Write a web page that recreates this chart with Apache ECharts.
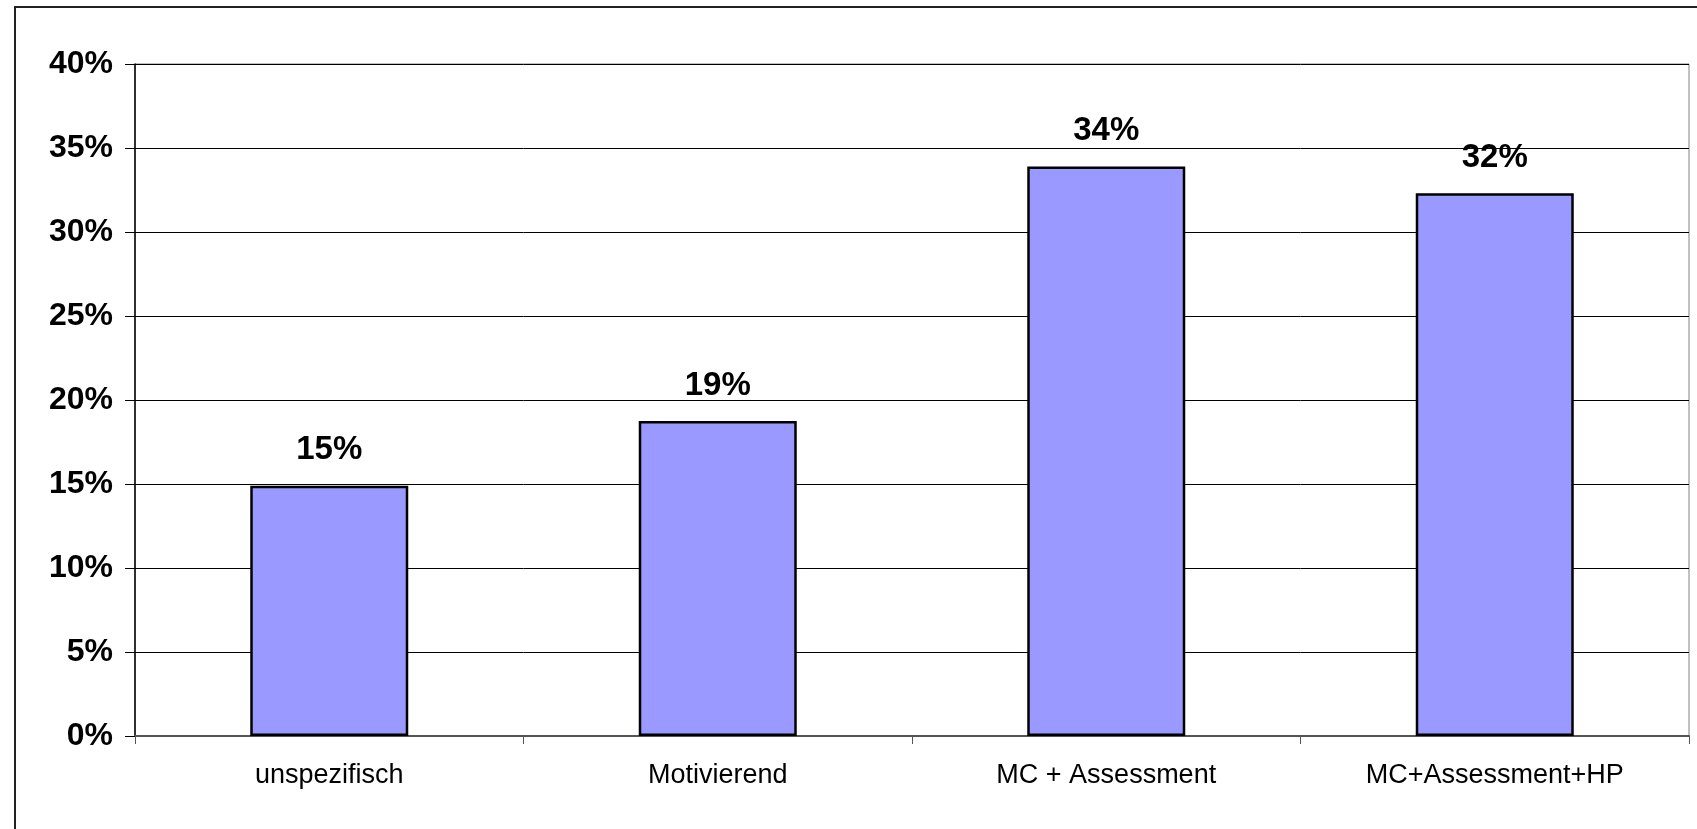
<!DOCTYPE html>
<html>
<head>
<meta charset="utf-8">
<script src="https://cdn.jsdelivr.net/npm/echarts@6/dist/echarts.min.js"></script>
<style>
  * { margin: 0; padding: 0; }
  body { background: #fff; }
</style>
</head>
<body>
<div id="main" style="width: 1697px; height: 829px;"></div>
<script>
// categories and values (share in percent)
var categories = ['unspezifisch', 'Motivierend', 'MC + Assessment', 'MC+Assessment+HP'];
var shares = [14.9, 18.75, 33.9, 32.3];
var yTicks = [0, 5, 10, 15, 20, 25, 30, 35, 40];

var chart = echarts.init(document.getElementById('main'));
chart.setOption({
  animation: false,
  backgroundColor: '#fff',
  // outer frame of the chart area
  graphic: [{
    type: 'rect',
    shape: { x: 15, y: 7, width: 1800, height: 900 },
    style: { fill: 'none', stroke: '#222', lineWidth: 2 },
    silent: true
  }],
  grid: {
    left: 135, right: 8, top: 64, bottom: 93,
    show: true, borderColor: '#808080', borderWidth: 1
  },
  xAxis: {
    type: 'category',
    data: categories,
    axisLine: { lineStyle: { color: '#555', width: 2 } },
    axisTick: { show: true, length: 8, lineStyle: { color: '#555' } },
    axisLabel: {
      margin: 26,
      fontFamily: 'Liberation Sans, Arial, sans-serif',
      fontSize: 27,
      color: '#000'
    }
  },
  yAxis: {
    type: 'value',
    min: yTicks[0],
    max: yTicks[yTicks.length - 1],
    interval: 5,
    axisLine: { show: true, lineStyle: { color: '#000', width: 1.5 } },
    axisTick: { show: true, length: 10, lineStyle: { color: '#000' } },
    splitLine: { lineStyle: { color: '#000', width: 1 } },
    axisLabel: {
      margin: 22,
      fontFamily: 'Liberation Sans, Arial, sans-serif',
      fontWeight: 'bold',
      fontSize: 32,
      color: '#000',
      formatter: '{value}%'
    }
  },
  series: [{
    type: 'bar',
    data: shares,
    barWidth: 158,
    itemStyle: { color: '#9999FF', borderColor: '#000', borderWidth: 2.5 },
    label: {
      show: true,
      position: 'top',
      distance: 19,
      fontFamily: 'Liberation Sans, Arial, sans-serif',
      fontWeight: 'bold',
      fontSize: 33,
      color: '#000',
      formatter: function (p) { return Math.round(p.value) + '%'; }
    }
  }]
});
</script>
</body>
</html>
